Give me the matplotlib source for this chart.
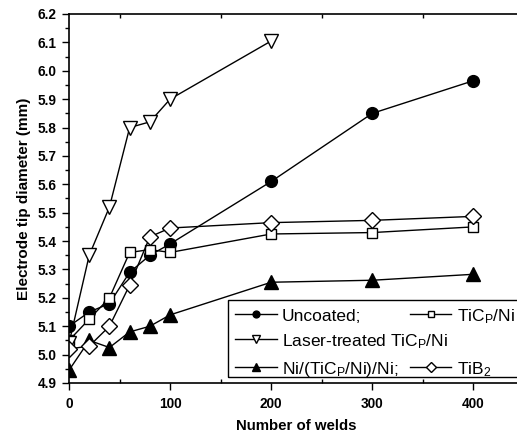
import matplotlib
matplotlib.use("Agg")
import matplotlib.pyplot as plt
from matplotlib.lines import Line2D
from matplotlib.patches import Rectangle
from matplotlib.ticker import MultipleLocator

plt.rcParams["font.family"] = ["Liberation Sans", "DejaVu Sans"]
plt.rcParams["mathtext.default"] = "regular"

welds = [0, 20, 40, 60, 80, 100, 200, 300, 400]
uncoated = [5.10, 5.15, 5.18, 5.29, 5.35, 5.39, 5.61, 5.85, 5.965]
ticp_ni = [5.05, 5.125, 5.20, 5.36, 5.37, 5.36, 5.425, 5.43, 5.45]
laser_welds = [0, 20, 40, 60, 80, 100, 200]
laser_ticp = [5.04, 5.35, 5.52, 5.80, 5.82, 5.90, 6.105]
ni_ticp_ni = [4.945, 5.05, 5.025, 5.08, 5.10, 5.14, 5.255, 5.262, 5.283]
tib2 = [5.02, 5.03, 5.10, 5.245, 5.415, 5.446, 5.465, 5.473, 5.487]

W, H = 517, 438
fig = plt.figure(figsize=(W / 100, H / 100), dpi=100)
ax = fig.add_axes([69 / W, 55 / H, 455 / W, 369 / H])

kw = dict(color="black", lw=1.0, markeredgewidth=1.0)
l_unc, = ax.plot(welds, uncoated, marker="o", ms=8.5, mfc="black", label="Uncoated;", **kw)
l_tic, = ax.plot(welds, ticp_ni, marker="s", ms=7.5, mfc="white", label="TiC$_P$/Ni", **kw)
l_las, = ax.plot(laser_welds, laser_ticp, marker="v", ms=9.5, mfc="white",
                 label="Laser-treated TiC$_P$/Ni", **kw)
l_ni, = ax.plot(welds, ni_ticp_ni, marker="^", ms=9.5, mfc="black",
                label="Ni/(TiC$_P$/Ni)/Ni;", **kw)
l_tib, = ax.plot(welds, tib2, marker="D", ms=8, mfc="white", label="TiB$_2$", **kw)

ax.set_xlim(0, 450)
ax.set_ylim(4.9, 6.2)
ax.xaxis.set_major_locator(MultipleLocator(100))
ax.xaxis.set_minor_locator(MultipleLocator(50))
ax.yaxis.set_major_locator(MultipleLocator(0.1))
ax.yaxis.set_minor_locator(MultipleLocator(0.05))
ax.tick_params(which="major", direction="out", length=5, width=1.0, labelsize=9.8, pad=4)
ax.tick_params(axis="x", which="major", pad=5)
ax.tick_params(which="minor", direction="out", length=3, width=1.0)
ax.tick_params(axis="x", which="minor", top=True, direction="in")
for lab in ax.get_xticklabels() + ax.get_yticklabels():
    lab.set_fontweight("bold")
for sp in ax.spines.values():
    sp.set_linewidth(1.2)

ax.set_xlabel("Number of welds", fontsize=10.8, fontweight="bold", labelpad=6)
ax.set_ylabel("Electrode tip diameter (mm)", fontsize=11, fontweight="bold", labelpad=5)

# legend frame, running off the right edge like the reference
ax.add_patch(Rectangle((0.349, 0.016), 0.8, 0.209, transform=ax.transAxes,
                       fill=False, edgecolor="black", lw=1.0, clip_on=False, zorder=4))

leg_kw = dict(fontsize=12.5, handlelength=2.4, handletextpad=0.3, handleheight=1.2,
              labelspacing=0.45, borderpad=0, borderaxespad=0, markerscale=0.58,
              frameon=False, loc="upper left")
top = 0.208
leg1 = ax.legend(handles=[l_unc, l_las, l_ni], bbox_to_anchor=(0.365, top), **leg_kw)
ax.add_artist(leg1)
blank = Line2D([], [], linestyle="none", marker="none", label=" ")
ax.legend(handles=[l_tic, blank, l_tib], bbox_to_anchor=(0.749, top), **leg_kw)

fig.savefig("out.png", dpi=100)
